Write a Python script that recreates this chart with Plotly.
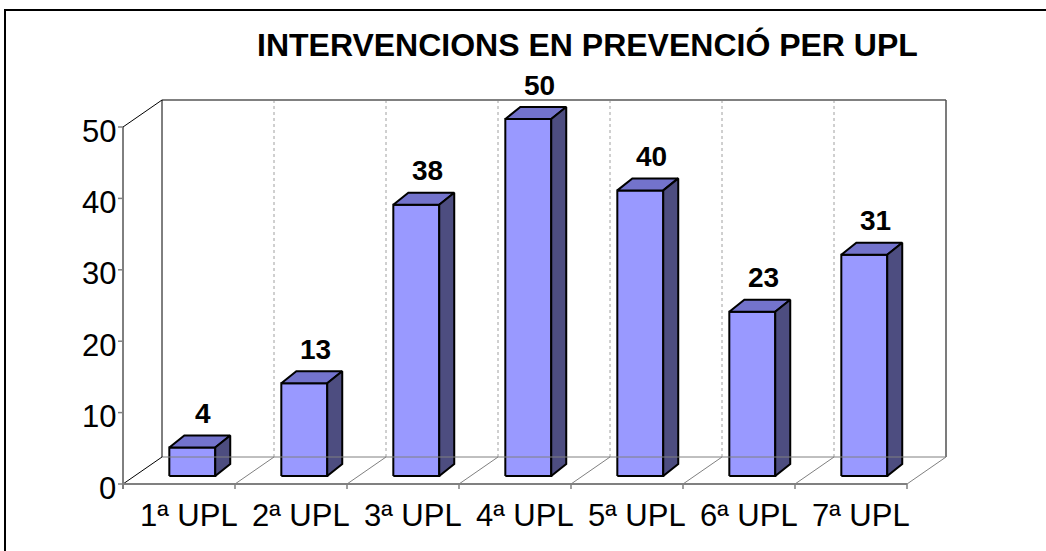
import plotly.graph_objects as go

# ---------------- data ----------------
categories = ["1ª UPL", "2ª UPL", "3ª UPL", "4ª UPL", "5ª UPL", "6ª UPL", "7ª UPL"]
values = [4, 13, 38, 50, 40, 23, 31]
y_ticks = [0, 10, 20, 30, 40, 50]
title_text = "INTERVENCIONS EN PREVENCIÓ PER UPL"

# ---------------- geometry (pixel scale of the axes) ----------------
W, H = 1046, 551
X0_PX, Y0_PX = 123, 484          # pixel of category-edge 0 / value 0 on the front plane
PX_CAT = 112.0                   # pixels per category
PX_VAL = 357.0 / 50.0            # pixels per value unit


def dx(px):
    return px / PX_CAT


def dy(px):
    return px / PX_VAL


WALL_DX, WALL_DY = dx(39), dy(27)          # depth of the back wall
BAR_FDX, BAR_FDY = dx(11.6), dy(8)         # bar front face offset
BAR_BDX, BAR_BDY = dx(26.6), dy(20)        # bar back face offset
BAR_LEFT, BAR_W = 0.31, 0.41               # bar position inside a category
Y_MAX = 50

FRONT = "#9999FF"
TOP = "#7373CC"
SIDE = "#4D4D80"
GRAY = "#808080"
FONT = "Liberation Sans, Arial, sans-serif"

n = len(categories)
fig = go.Figure()


def line(x0, y0, x1, y1, color=GRAY, width=1, dash="solid"):
    fig.add_shape(type="line", xref="x", yref="y", x0=x0, y0=y0, x1=x1, y1=y1,
                  line=dict(color=color, width=width, dash=dash), layer="above")


def poly(xs, ys, color):
    fig.add_trace(go.Scatter(x=xs + [xs[0]], y=ys + [ys[0]], mode="lines", fill="toself",
                             fillcolor=color, line=dict(color="black", width=2),
                             hoverinfo="skip", showlegend=False))


# back wall gridlines (category boundaries)
for k in range(1, n):
    line(k + WALL_DX, WALL_DY, k + WALL_DX, Y_MAX + WALL_DY, color="#A0A0A0", width=1, dash="dot")
# back wall frame
line(WALL_DX, Y_MAX + WALL_DY, n + WALL_DX, Y_MAX + WALL_DY, color=GRAY, width=2)
line(n + WALL_DX, WALL_DY, n + WALL_DX, Y_MAX + WALL_DY, color="#505050", width=1.5)
line(WALL_DX, WALL_DY, n + WALL_DX, WALL_DY, color=GRAY, width=1)
line(WALL_DX, WALL_DY, WALL_DX, Y_MAX + WALL_DY, color="black", width=1)
# side wall
line(0, Y_MAX, WALL_DX, Y_MAX + WALL_DY, color="black", width=1)
line(0, 0, WALL_DX, WALL_DY, color="black", width=1)
line(0, -dy(5), 0, Y_MAX, color="black", width=1)
# floor
line(0, 0, n, 0, color=GRAY, width=2)
for k in range(1, n + 1):
    line(k, 0, k + WALL_DX, WALL_DY, color=GRAY, width=1)
    line(k, 0, k, -dy(5), color=GRAY, width=1.5)
# y ticks
for t in y_ticks:
    line(-dx(5), t, 0, t, color=GRAY, width=1.5)

# bars
for i, v in enumerate(values):
    xl = i + BAR_LEFT
    xr = xl + BAR_W
    # front
    poly([xl + BAR_FDX, xr + BAR_FDX, xr + BAR_FDX, xl + BAR_FDX],
         [BAR_FDY, BAR_FDY, v + BAR_FDY, v + BAR_FDY], FRONT)
    # top
    poly([xl + BAR_FDX, xr + BAR_FDX, xr + BAR_BDX, xl + BAR_BDX],
         [v + BAR_FDY, v + BAR_FDY, v + BAR_BDY, v + BAR_BDY], TOP)
    # side
    poly([xr + BAR_FDX, xr + BAR_BDX, xr + BAR_BDX, xr + BAR_FDX],
         [BAR_FDY, BAR_BDY, v + BAR_BDY, v + BAR_FDY], SIDE)

annotations = []
# data labels
for i, v in enumerate(values):
    annotations.append(dict(x=i + BAR_LEFT + BAR_W / 2 + BAR_FDX + dx(11), y=v + BAR_BDY + dy(22),
                            xref="x", yref="y", text=str(v), showarrow=False,
                            xanchor="center", yanchor="middle",
                            font=dict(family=FONT, size=28, color="black", weight="bold")))
# category labels
for i, c in enumerate(categories):
    annotations.append(dict(x=i + 0.5 + dx(10), y=-dy(31), xref="x", yref="y", text=c,
                            showarrow=False, xanchor="center", yanchor="middle",
                            font=dict(family=FONT, size=31, color="black")))
# y tick labels
for t in y_ticks:
    annotations.append(dict(x=-dx(5), y=t - dy(4), xref="x", yref="y", text=str(t),
                            showarrow=False, xanchor="right", yanchor="middle",
                            font=dict(family=FONT, size=31, color="black")))
# title
annotations.append(dict(x=587 / W, y=1 - 45 / H, xref="paper", yref="paper", text=title_text,
                        showarrow=False, xanchor="center", yanchor="middle",
                        font=dict(family=FONT, size=32, color="black", weight="bold")))

# chart frame
fig.add_shape(type="rect", xref="paper", yref="paper", x0=5 / W, y0=-0.05, x1=1.05, y1=1 - 10 / H,
              line=dict(color="black", width=2), layer="above")

fig.update_layout(
    width=W, height=H,
    margin=dict(l=0, r=0, t=0, b=0),
    paper_bgcolor="white", plot_bgcolor="white",
    xaxis=dict(range=[-X0_PX / PX_CAT, (W - X0_PX) / PX_CAT], visible=False, fixedrange=True),
    yaxis=dict(range=[-(H - Y0_PX) / PX_VAL, Y0_PX / PX_VAL], visible=False, fixedrange=True),
    annotations=annotations,
    showlegend=False,
)

fig.write_html("out.html", config={"displayModeBar": False},
               post_script="document.body.style.margin='0';")
